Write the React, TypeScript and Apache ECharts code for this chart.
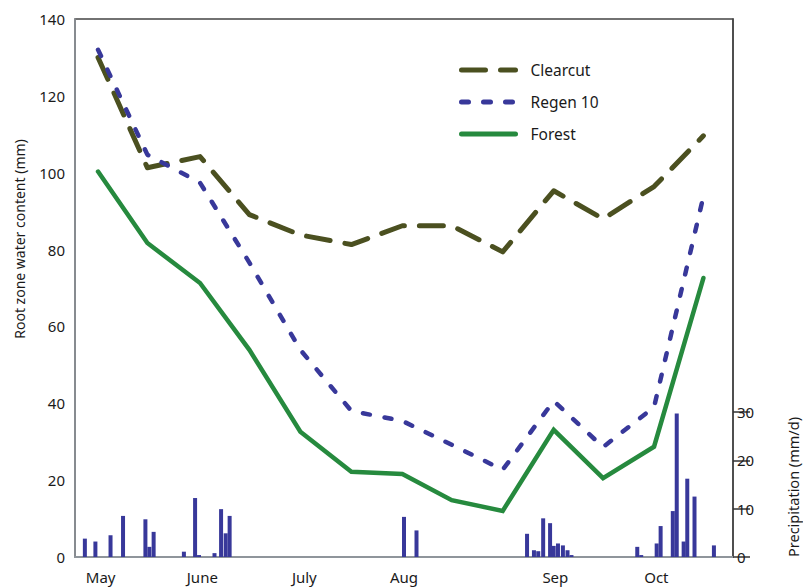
import React, { useEffect, useRef } from "react";
import * as echarts from "echarts";

// x values are days from the start of the plotted period
const pointDays = [7, 22, 38, 53, 68.5, 84, 99.5, 114.5, 130, 145.5, 160.5, 176, 191];
const clearcut = [130, 101.3, 104.2, 89.1, 83.8, 81.3, 86.2, 86.2, 79.4, 95.3, 88, 96.4, 109.6];
const regen10 = [132, 104.7, 97.4, 76.6, 53.9, 38, 35.4, 29.2, 22.7, 40.6, 28.6, 39, 93.8];
const forest = [100.3, 81.7, 71.3, 53.9, 32.6, 22.2, 21.6, 14.8, 12.0, 33.1, 20.5, 28.7, 72.6];

const monthLabels = ["May", "June", "July", "Aug", "Sep", "Oct"];
const monthDays = [7.8, 38.7, 69.7, 100, 146, 176.7];

const precipDays = [
  3.0, 6.2, 10.8, 14.6, 21.4, 22.6, 23.9, 33.1, 36.5, 37.7, 42.4, 44.4, 45.8, 47.0,
  100, 103.8,
  137.4, 139.5, 140.8, 142.3, 144.4, 145.5, 146.8, 148.3, 149.7, 150.9,
  170.9, 172.1, 176.8, 178, 181.7, 182.9, 185, 186.1, 188.3, 194.2,
];
const precipValues = [
  3.8, 3.2, 4.5, 8.5, 7.8, 2.1, 5.2, 1.1, 12.2, 0.4, 0.8, 9.9, 4.9, 8.5,
  8.3, 5.5,
  4.8, 1.4, 1.2, 8.0, 7.0, 2.3, 2.8, 2.4, 1.4, 0.4,
  2.1, 0.4, 2.8, 6.4, 9.5, 29.7, 3.2, 16.2, 12.5, 2.4,
];
const leftTicks = [0, 20, 40, 60, 80, 100, 120, 140];
const rightTicks = [0, 10, 20, 30];

const FONT = "Noto Sans";

export default function App() {
  const ref = useRef<HTMLDivElement>(null);
  useEffect(() => {
    if (!ref.current) return;
    const chart = echarts.init(ref.current, undefined, { renderer: "svg" });
    const zip = (xs: number[], ys: number[]) => xs.map((x, i) => [x, ys[i]]);
    chart.setOption({
      animation: false,
      backgroundColor: "#ffffff",
      textStyle: { fontFamily: FONT },
      grid: {
        left: 75,
        right: 70,
        top: 19,
        bottom: 30,
        show: true,
        borderColor: "#444444",
        borderWidth: 1.5,
        backgroundColor: "transparent",
      },
      legend: {
        orient: "vertical",
        left: 454,
        top: 57,
        itemWidth: 54,
        itemHeight: 14,
        itemGap: 16,
        itemStyle: { opacity: 0 },
        lineStyle: { width: 5, cap: "round" },
        textStyle: { fontFamily: FONT, fontSize: 15.5, color: "#1a1a1a", padding: [0, 0, 0, 10] },
        data: ["Clearcut", "Regen 10", "Forest"],
      },
      xAxis: {
        type: "value",
        min: 0,
        max: 200,
        axisLine: { show: true, lineStyle: { color: "#8f959b", width: 2 } },
        axisTick: { show: false },
        splitLine: { show: false },
        axisLabel: {
          customValues: monthDays,
          formatter: (v: number) => {
            const i = monthDays.indexOf(v);
            return i >= 0 ? monthLabels[i] : "";
          },
          fontFamily: FONT,
          fontSize: 15,
          color: "#1a1a1a",
          margin: 12,
        },
      },
      yAxis: [
        {
          type: "value",
          min: 0,
          max: 140,
          interval: 20,
          axisLine: { show: true, lineStyle: { color: "#8f959b", width: 1.5 } },
          axisTick: { show: false },
          splitLine: { show: false },
          axisLabel: {
            customValues: leftTicks,
            fontFamily: FONT,
            fontSize: 15,
            color: "#1a1a1a",
            margin: 10,
          },
        },
        {
          type: "value",
          position: "right",
          min: 0,
          max: 111.3,
          axisLine: { show: true, lineStyle: { color: "#444444", width: 1.5 } },
          axisTick: {
            show: true,
            inside: false,
            length: 17,
            customValues: rightTicks,
            lineStyle: { color: "#333333", width: 1.5 },
          },
          splitLine: { show: false },
          axisLabel: {
            customValues: rightTicks,
            fontFamily: FONT,
            fontSize: 15,
            color: "#1a1a1a",
            margin: 4,
          },
        },
      ],
      graphic: [
        {
          type: "text",
          x: 19,
          y: 239,
          rotation: Math.PI / 2,
          style: {
            text: "Root zone water content (mm)",
            fontFamily: FONT,
            fontSize: 14,
            fill: "#1a1a1a",
            align: "center",
            verticalAlign: "middle",
          },
        },
        {
          type: "text",
          x: 793,
          y: 487,
          rotation: Math.PI / 2,
          style: {
            text: "Precipitation (mm/d)",
            fontFamily: FONT,
            fontSize: 14.5,
            fill: "#1a1a1a",
            align: "center",
            verticalAlign: "middle",
          },
        },
      ],
      series: [
        {
          name: "Precipitation",
          type: "bar",
          yAxisIndex: 1,
          barWidth: 4,
          itemStyle: { color: "#38389a" },
          data: zip(precipDays, precipValues),
          z: 1,
        },
        {
          name: "Clearcut",
          type: "line",
          showSymbol: false,
          symbol: "none",
          data: zip(pointDays, clearcut),
          lineStyle: { color: "#4b5020", width: 5, type: [24, 15], cap: "round", join: "round" },
          itemStyle: { color: "#4b5020" },
          z: 3,
        },
        {
          name: "Regen 10",
          type: "line",
          showSymbol: false,
          symbol: "none",
          data: zip(pointDays, regen10),
          lineStyle: { color: "#38389a", width: 4.5, type: [7, 15], cap: "round", join: "round" },
          itemStyle: { color: "#38389a" },
          z: 4,
        },
        {
          name: "Forest",
          type: "line",
          showSymbol: false,
          symbol: "none",
          data: zip(pointDays, forest),
          lineStyle: { color: "#268a3e", width: 4.5, cap: "round", join: "miter" },
          itemStyle: { color: "#268a3e" },
          z: 2,
        },
      ],
    });
    return () => chart.dispose();
  }, []);
  return (
    <div
      ref={ref}
      style={{ position: "fixed", left: 0, top: 0, width: 803, height: 587 }}
    />
  );
}
